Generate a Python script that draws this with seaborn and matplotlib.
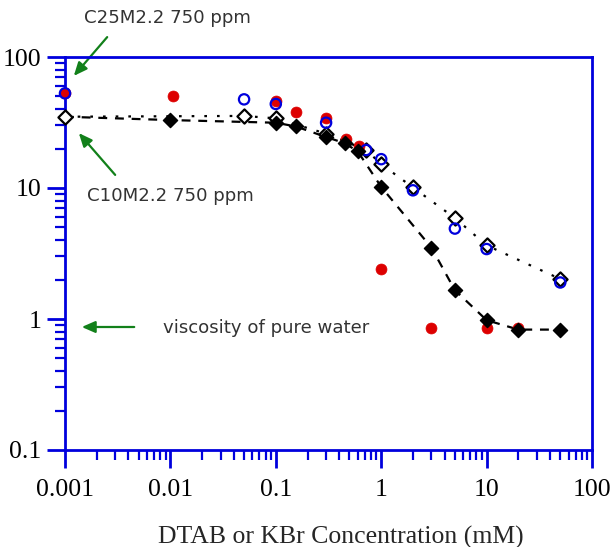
import matplotlib
matplotlib.use("Agg")
import matplotlib.pyplot as plt
import seaborn as sns
import numpy as np
from matplotlib.ticker import LogLocator, NullFormatter, FixedFormatter, FixedLocator

# ---- data ----
# filled diamonds, dashed line
filled_x = [0.01, 0.1, 0.155, 0.3, 0.45, 0.6, 1.0, 3.0, 5.0, 10.0, 20.0, 50.0]
filled_y = [33.0, 31.5, 29.5, 24.5, 22.0, 19.0, 10.2, 3.5, 1.66, 0.98, 0.83, 0.83]
# open diamonds, dotted line
open_x = [0.001, 0.05, 0.1, 0.3, 0.72, 1.0, 2.0, 5.0, 10.0, 50.0]
open_y = [35.0, 35.5, 34.0, 26.0, 19.5, 15.2, 10.1, 5.9, 3.65, 2.02]
# blue open circles
blue_x = [0.001, 0.05, 0.1, 0.3, 0.72, 1.0, 2.0, 5.0, 10.0, 50.0]
blue_y = [52.8, 47.5, 43.8, 31.5, 19.5, 16.6, 9.6, 4.9, 3.42, 1.9]
# red filled circles
red_x = [0.001, 0.0105, 0.1, 0.155, 0.3, 0.46, 0.62, 1.0, 3.0, 10.0, 20.0]
red_y = [52.8, 50.7, 46.0, 37.8, 34.0, 23.6, 21.0, 2.39, 0.85, 0.85, 0.85]

x_ticks = [0.001, 0.01, 0.1, 1, 10, 100]
x_labels = ["0.001", "0.01", "0.1", "1", "10", "100"]
y_ticks = [0.1, 1, 10, 100]
y_labels = ["0.1", "1", "10", "100"]

BLUE = "#0000dd"
GREEN = "#12801a"

sns.set_style("white")
fig = plt.figure(figsize=(6.15, 5.47), dpi=100)
ax = fig.add_axes([65/615, 1 - 450/547, (592 - 65)/615, (450 - 57)/547])
ax.set_xscale("log")
ax.set_yscale("log")

# lines
sns.lineplot(x=[open_x[0]] + filled_x, y=[open_y[0]] + filled_y, ax=ax, color="black",
             lw=1.6, linestyle=(0, (4, 3.5)), sort=True, estimator=None)
sns.lineplot(x=open_x, y=open_y, ax=ax, color="black", lw=1.6,
             linestyle=(0, (1.2, 4.5)), sort=True, estimator=None)

# markers
sns.scatterplot(x=red_x, y=red_y, ax=ax, color="#dd0000", s=62, edgecolor="#dd0000",
                linewidth=0.5, zorder=5, clip_on=False)
sns.scatterplot(x=blue_x, y=blue_y, ax=ax, facecolor="none", edgecolor=BLUE, s=55,
                linewidth=1.6, zorder=6, clip_on=False)
sns.scatterplot(x=filled_x, y=filled_y, ax=ax, color="black", marker="D", s=52,
                edgecolor="black", linewidth=1, zorder=7, clip_on=False)
sns.scatterplot(x=open_x, y=open_y, ax=ax, facecolor="white", edgecolor="black", marker="D",
                s=52, linewidth=1.6, zorder=4, clip_on=False)

ax.set_xlim(0.001, 100)
ax.set_ylim(0.1, 100)

for sp in ax.spines.values():
    sp.set_color(BLUE)
    sp.set_linewidth(2)
    sp.set_visible(True)
    sp.set_zorder(3)

ax.xaxis.set_major_locator(FixedLocator(x_ticks))
ax.xaxis.set_major_formatter(FixedFormatter(x_labels))
ax.yaxis.set_major_locator(FixedLocator(y_ticks))
ax.yaxis.set_major_formatter(FixedFormatter(y_labels))
ax.xaxis.set_minor_locator(LogLocator(base=10, subs=np.arange(2, 10), numticks=20))
ax.yaxis.set_minor_locator(LogLocator(base=10, subs=np.arange(2, 10), numticks=20))
ax.xaxis.set_minor_formatter(NullFormatter())
ax.yaxis.set_minor_formatter(NullFormatter())
ax.tick_params(which="major", direction="out", length=13, width=2, color=BLUE,
               labelsize=18.5, labelcolor="black", pad=8,
               bottom=True, left=True, top=False, right=False)
ax.tick_params(which="minor", direction="out", length=7, width=1.6, color=BLUE,
               bottom=True, left=True, top=False, right=False)
for lab in ax.get_xticklabels() + ax.get_yticklabels():
    lab.set_family("Liberation Serif")
ax.tick_params(axis="y", pad=4)

ax.set_xlabel("")
ax.set_ylabel("")
fig.text(341/615, 1 - 537/547, "DTAB or KBr Concentration (mM)", family="Liberation Serif",
         fontsize=18.5, ha="center", va="center")

# annotations
tkw = dict(fontsize=13.1, color="#333333", family="DejaVu Sans")
akw = dict(arrowstyle="-|>,head_length=0.8,head_width=0.35", color=GREEN, lw=1.6)
fig.text(84/615, 1 - 18/547, "C25M2.2 750 ppm", va="center", ha="left", **tkw)
fig.text(87/615, 1 - 196/547, "C10M2.2 750 ppm", va="center", ha="left", **tkw)
fig.text(163/615, 1 - 328/547, "viscosity of pure water", va="center", ha="left", **tkw)
ax.annotate("", xy=(72/615, 1 - 78/547), xytext=(109/615, 1 - 35/547),
            xycoords="figure fraction", textcoords="figure fraction", arrowprops=akw)
ax.annotate("", xy=(77/615, 1 - 131/547), xytext=(117/615, 1 - 177/547),
            xycoords="figure fraction", textcoords="figure fraction", arrowprops=akw)
ax.annotate("", xy=(79/615, 1 - 327/547), xytext=(137/615, 1 - 327/547),
            xycoords="figure fraction", textcoords="figure fraction", arrowprops=akw)

fig.savefig("out.png", dpi=100)
